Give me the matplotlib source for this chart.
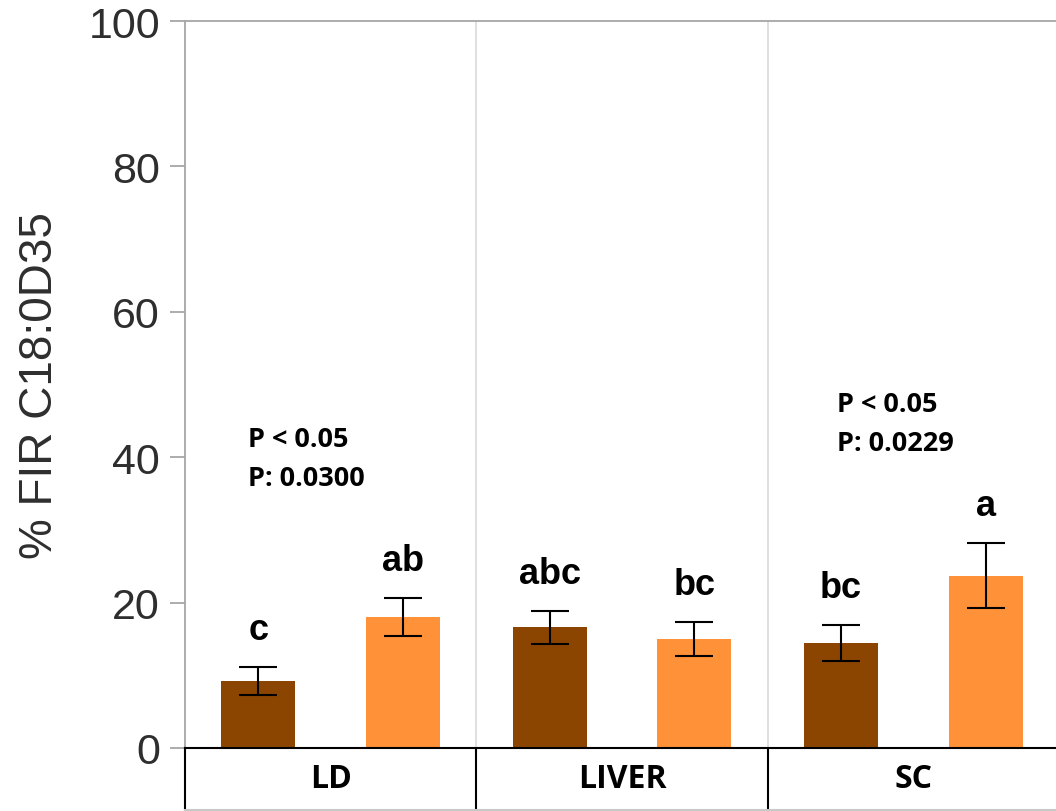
import matplotlib.pyplot as plt
import numpy as np

# tissue groups and the two treatments per group
tissues = ['LD', 'LIVER', 'SC']
dark_means = [9.2, 16.6, 14.4]
dark_err = [1.95, 2.25, 2.5]
orange_means = [18.0, 15.0, 23.7]
orange_err = [2.65, 2.35, 4.5]
dark_letters = ['c', 'abc', 'bc']
orange_letters = ['ab', 'bc', 'a']
p_notes = {0: ('P < 0.05', 'P: 0.0300'), 2: ('P < 0.05', 'P: 0.0229')}

W, H = 1056, 812
fig = plt.figure(figsize=(W / 100, H / 100), dpi=100)

left, right = 185, 1059
top, base, floor = 22, 749, 811
ax = fig.add_axes([left / W, (H - base) / H, (right - left) / W,
                   (base - top) / H])
box = fig.add_axes([left / W, (H - floor) / H, (right - left) / W,
                    (floor - base) / H])

x = np.arange(len(tissues))
off, bw = 0.248, 0.254
ax.bar(x - off, dark_means, width=bw, color='#8B4500', zorder=2)
ax.bar(x + off, orange_means, width=bw, color='#FF9139', zorder=2)
ax.errorbar(x - off, dark_means, yerr=dark_err, fmt='none', ecolor='black',
            elinewidth=1.5, capsize=13.5, capthick=1.5, zorder=3)
ax.errorbar(x + off, orange_means, yerr=orange_err, fmt='none',
            ecolor='black', elinewidth=1.5, capsize=13.5, capthick=1.5,
            zorder=3)

# significance letters above the error bars
for i in range(len(tissues)):
    ax.text(x[i] - off, dark_means[i] + dark_err[i] + 3.9, dark_letters[i],
            ha='center', va='baseline', fontsize=26, fontweight='bold',
            family='Liberation Sans')
    ax.text(x[i] + off, orange_means[i] + orange_err[i] + 3.9,
            orange_letters[i], ha='center', va='baseline', fontsize=26,
            fontweight='bold', family='Liberation Sans')

p_pos = {0: (-0.283, 42.5), 2: (1.737, 47.3)}
for i, (l1, l2) in p_notes.items():
    px, py = p_pos[i]
    ax.text(px, py, l1, ha='left', va='center', fontsize=19.5,
            fontweight='bold', family='Open Sans')
    ax.text(px, py - 5.3, l2, ha='left', va='center', fontsize=19.5,
            fontweight='bold', family='Open Sans')

ax.set_xlim(-0.5, 2.5)
ax.set_ylim(0, 100)
ax.set_xticks([])
ax.set_yticks([0, 20, 40, 60, 80, 100])
for b in [0.5, 1.5]:
    ax.axvline(b, color='#d9d9d9', lw=1.2, zorder=1)

for s in ['right', 'bottom']:
    ax.spines[s].set_visible(False)
ax.spines['left'].set_color('#a6a6a6')
ax.spines['top'].set_color('#a6a6a6')
ax.spines['left'].set_linewidth(1.3)
ax.spines['top'].set_linewidth(1.3)
ax.tick_params(axis='y', length=11, width=1.3, color='#a6a6a6', pad=7,
               labelsize=31, labelcolor='#2e2e2e')
for lab in ax.get_yticklabels():
    lab.set_family('Liberation Sans')
fig.text(40 / W, (H - 386) / H, '% FIR C18:0D35', rotation=90,
         ha='center', va='center', fontsize=33, color='#2e2e2e',
         family='Liberation Sans')

# group label strip under the bars
box.set_xlim(-0.5, 2.5)
box.set_ylim(0, 1)
box.set_xticks([])
box.set_yticks([])
for s in box.spines.values():
    s.set_color('black')
    s.set_linewidth(1.5)
box.spines['right'].set_visible(False)
box.spines['bottom'].set_color('#c8c8c8')
for b in [0.5, 1.5]:
    box.axvline(b, color='black', lw=1.5)
for i, t in enumerate(tissues):
    box.text(i, 0.5, t, ha='center', va='center', fontsize=23,
             fontweight='bold', family='Open Sans')

fig.savefig('out.png', dpi=100)
